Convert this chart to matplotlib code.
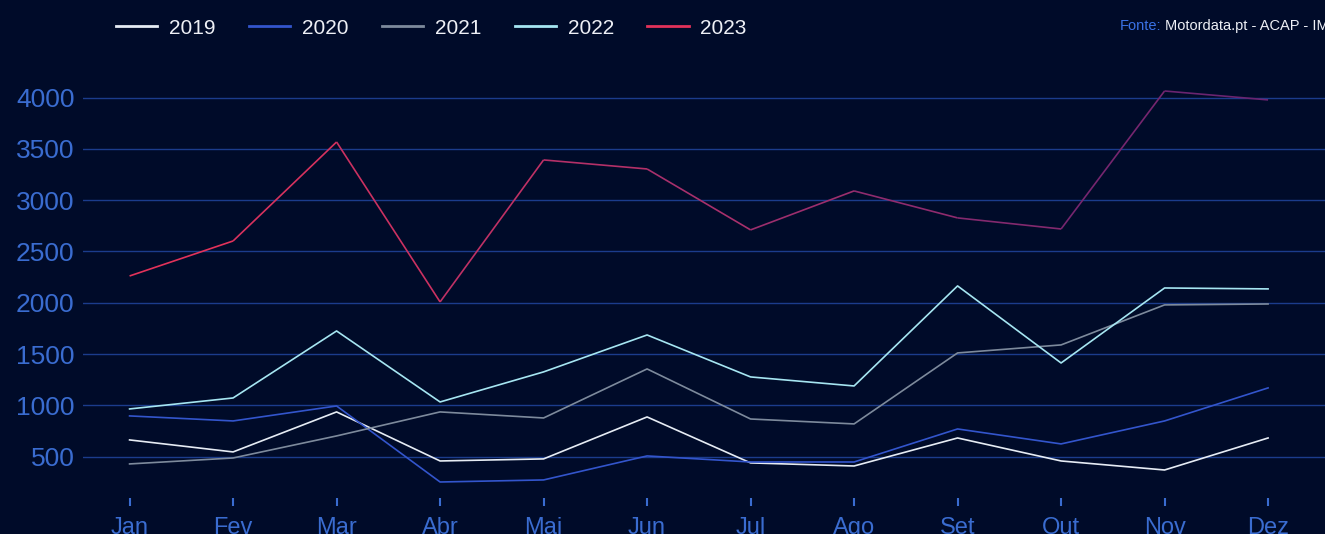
import numpy as np
import matplotlib.pyplot as plt
from matplotlib.collections import LineCollection
from matplotlib.lines import Line2D
from matplotlib.colors import LinearSegmentedColormap

plt.rcParams['font.family'] = ['Liberation Sans', 'DejaVu Sans']

# monthly values
meses = ['Jan', 'Fev', 'Mar', 'Abr', 'Mai', 'Jun', 'Jul', 'Ago', 'Set', 'Out', 'Nov', 'Dez']
v2019 = [663, 546, 936, 458, 478, 887, 439, 409, 682, 458, 370, 682]
v2020 = [897, 848, 994, 253, 273, 507, 448, 448, 770, 624, 848, 1170]
v2021 = [429, 487, 702, 936, 877, 1355, 867, 819, 1511, 1589, 1979, 1988]
v2022 = [965, 1072, 1725, 1033, 1326, 1686, 1277, 1189, 2164, 1413, 2144, 2135]
v2023 = [2261, 2602, 3567, 2008, 3392, 3304, 2710, 3090, 2827, 2719, 4064, 3977]
yticks = [500, 1000, 1500, 2000, 2500, 3000, 3500, 4000]

bg = '#000b29'
tick_col = '#3a6cd0'

fig = plt.figure(figsize=(13.25, 5.34), dpi=100, facecolor=bg)
ax = fig.add_axes([83 / 1325, 1 - 498 / 534, 1 - 83 / 1325, (498 - 60) / 534])
ax.set_facecolor(bg)

x = np.arange(len(meses))
for yt in yticks:
    ax.axhline(yt, color='#1b3c8c', lw=1.0, zorder=1)

ax.plot(x, v2019, color='#e6ecf4', lw=1.2, zorder=3)
ax.plot(x, v2020, color='#3355cc', lw=1.2, zorder=3)
ax.plot(x, v2021, color='#7d8a9c', lw=1.2, zorder=3)
ax.plot(x, v2022, color='#a6e6f2', lw=1.2, zorder=3)

# 2023 drawn with colour fading from red to purple
cmap = LinearSegmentedColormap.from_list('g', ['#e2325a', '#a8306c', '#6a2470'])
pts = np.column_stack([x, v2023]).reshape(-1, 1, 2)
segs = np.concatenate([pts[:-1], pts[1:]], axis=1)
lc = LineCollection(segs, colors=cmap(np.linspace(0, 1, len(segs))), lw=1.2, zorder=3)
ax.add_collection(lc)

ax.set_xlim(-0.45, 11.55)
ax.set_ylim(97, 4366)
ax.set_xticks(x)
ax.set_xticklabels(meses)
ax.set_yticks(yticks)
ax.tick_params(axis='x', colors=tick_col, labelsize=17, length=6, width=1.5, direction='out', pad=8)
ax.tick_params(axis='y', colors=tick_col, labelsize=19, length=0, pad=6)
for s in ax.spines.values():
    s.set_visible(False)

handles = [Line2D([], [], color=c, lw=2) for c in
           ['#e6ecf4', '#3355cc', '#7d8a9c', '#a6e6f2', '#e2325a']]
leg = fig.legend(handles, ['2019', '2020', '2021', '2022', '2023'], ncol=5,
                 loc='upper left', bbox_to_anchor=(97 / 1325, 1.0), frameon=False,
                 fontsize=15, handlelength=2.0, columnspacing=1.6, handletextpad=0.55)
for t in leg.get_texts():
    t.set_color('#eef0f6')

fig.text(1120 / 1325, 1 - 26 / 534, 'Fonte:', color='#3a72e6', fontsize=10.5, va='center')
fig.text(1165 / 1325, 1 - 26 / 534, 'Motordata.pt - ACAP - IMT', color='#eef0f6',
         fontsize=10.5, va='center')

fig.savefig('out.png', dpi=100, facecolor=bg)
